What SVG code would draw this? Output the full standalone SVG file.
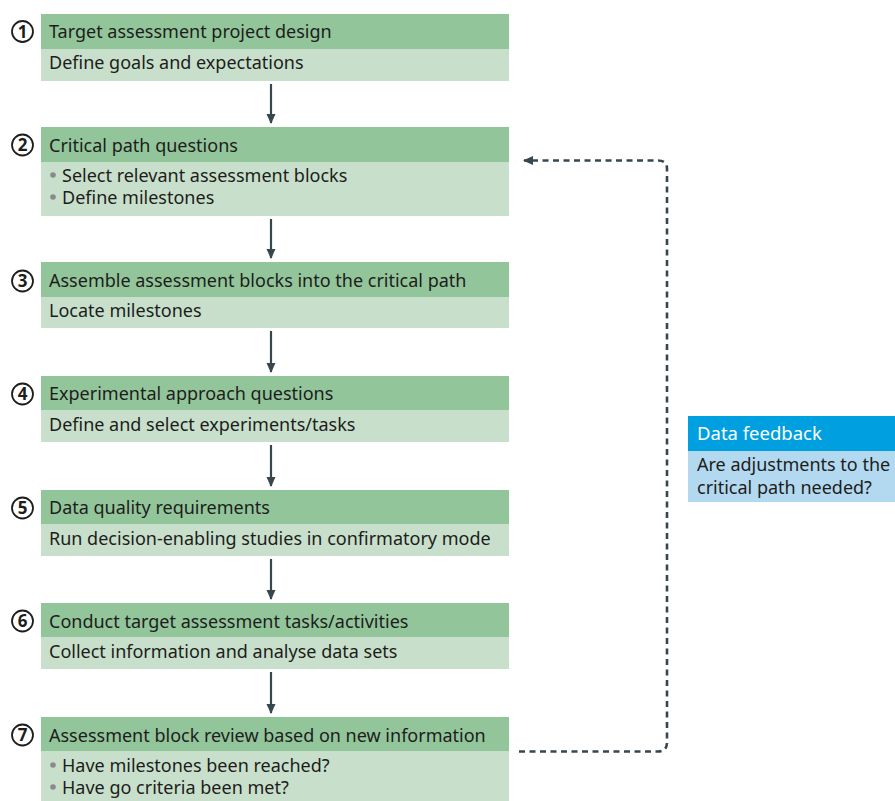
<svg xmlns="http://www.w3.org/2000/svg" width="895" height="801" viewBox="0 0 895 801">
<style>
.hd{fill:#93c59b}
.bd{fill:#c8e0cb}
.t{font-family:"Noto Sans","Open Sans",sans-serif;font-size:18px;fill:#1d1d1b}
.w{font-family:"Noto Sans","Open Sans",sans-serif;font-size:18.5px;fill:#ffffff}
.num{font-family:"Noto Sans","DejaVu Sans",sans-serif;font-size:17px;font-weight:bold;fill:#1d1d1b;text-anchor:middle}
.circ{fill:#ffffff;stroke:#1d1d1b;stroke-width:1.8}
.bul{fill:#8a8a8a}
.arr{stroke:#37474f;stroke-width:2.2;fill:none}
.dash{stroke:#37474f;stroke-width:2.6;fill:none;stroke-dasharray:6 4.5}
</style>
<defs>
<marker id="ah" markerWidth="12" markerHeight="12" refX="9" refY="6" orient="auto" markerUnits="userSpaceOnUse">
<path d="M0,1.5 L10,6 L0,10.5 Z" fill="#37474f"/>
</marker>
<marker id="ah2" markerWidth="12" markerHeight="12" refX="9" refY="6" orient="auto" markerUnits="userSpaceOnUse">
<path d="M0,1.5 L10,6 L0,10.5 Z" fill="#37474f"/>
</marker>
</defs>

<g id="connectors">
<line class="arr" x1="271" y1="84" x2="271" y2="123" marker-end="url(#ah)"/>
<line class="arr" x1="271" y1="219" x2="271" y2="258" marker-end="url(#ah)"/>
<line class="arr" x1="271" y1="331" x2="271" y2="372" marker-end="url(#ah)"/>
<line class="arr" x1="271" y1="445" x2="271" y2="486" marker-end="url(#ah)"/>
<line class="arr" x1="271" y1="559" x2="271" y2="599" marker-end="url(#ah)"/>
<line class="arr" x1="271" y1="672" x2="271" y2="713" marker-end="url(#ah)"/>
<path class="dash" d="M519,751.5 H658 Q667,751.5 667,742 V169 Q667,160.5 658,160.5 H524" marker-end="url(#ah2)"/>
</g>

<g id="node1">
<rect class="hd" x="41" y="14" width="468" height="35"/>
<rect class="bd" x="41" y="49" width="468" height="32"/>
<circle class="circ" cx="22.5" cy="31.5" r="10.5"/>
<text class="num" x="22.5" y="37.5">1</text>
<text class="t" x="49" y="37.5">Target assessment project design</text>
<text class="t" x="49" y="68.5">Define goals and expectations</text>
</g>

<g id="node2">
<rect class="hd" x="41" y="127" width="468" height="35"/>
<rect class="bd" x="41" y="162" width="468" height="54"/>
<circle class="circ" cx="22.5" cy="145" r="10.5"/>
<text class="num" x="22.5" y="151">2</text>
<text class="t" x="49" y="151.5">Critical path questions</text>
<circle class="bul" cx="53" cy="175" r="2.8"/>
<text class="t" x="62" y="181.5">Select relevant assessment blocks</text>
<circle class="bul" cx="53" cy="197" r="2.8"/>
<text class="t" x="62" y="203.5">Define milestones</text>
</g>

<g id="node3">
<rect class="hd" x="41" y="262" width="468" height="35"/>
<rect class="bd" x="41" y="297" width="468" height="31"/>
<circle class="circ" cx="22.5" cy="281" r="10.5"/>
<text class="num" x="22.5" y="287">3</text>
<text class="t" x="49" y="286.5">Assemble assessment blocks into the critical path</text>
<text class="t" x="49" y="316.5">Locate milestones</text>
</g>

<g id="node4">
<rect class="hd" x="41" y="376" width="468" height="34"/>
<rect class="bd" x="41" y="410" width="468" height="32"/>
<circle class="circ" cx="22.5" cy="394" r="10.5"/>
<text class="num" x="22.5" y="400">4</text>
<text class="t" x="49" y="399.5">Experimental approach questions</text>
<text class="t" x="49" y="430.5">Define and select experiments/tasks</text>
</g>

<g id="node5">
<rect class="hd" x="41" y="490" width="468" height="34"/>
<rect class="bd" x="41" y="524" width="468" height="32"/>
<circle class="circ" cx="22.5" cy="508" r="10.5"/>
<text class="num" x="22.5" y="514">5</text>
<text class="t" x="49" y="513.5">Data quality requirements</text>
<text class="t" x="49" y="544.5">Run decision-enabling studies in confirmatory mode</text>
</g>

<g id="node6">
<rect class="hd" x="41" y="603" width="468" height="34"/>
<rect class="bd" x="41" y="637" width="468" height="32"/>
<circle class="circ" cx="22.5" cy="621" r="10.5"/>
<text class="num" x="22.5" y="627">6</text>
<text class="t" x="49" y="627.5">Conduct target assessment tasks/activities</text>
<text class="t" x="49" y="657.5">Collect information and analyse data sets</text>
</g>

<g id="node7">
<rect class="hd" x="41" y="717" width="468" height="34"/>
<rect class="bd" x="41" y="751" width="468" height="50"/>
<circle class="circ" cx="22.5" cy="735" r="10.5"/>
<text class="num" x="22.5" y="741">7</text>
<text class="t" x="49" y="741.5">Assessment block review based on new information</text>
<circle class="bul" cx="53" cy="765" r="2.8"/>
<text class="t" x="62" y="771.5">Have milestones been reached?</text>
<circle class="bul" cx="53" cy="787" r="2.8"/>
<text class="t" x="62" y="793.5">Have go criteria been met?</text>
</g>

<g id="feedback">
<rect x="688" y="416" width="207" height="35" fill="#009fdf"/>
<rect x="688" y="451" width="207" height="51" fill="#b3d9f0"/>
<text class="w" x="697" y="440">Data feedback</text>
<text class="t" x="697" y="471">Are adjustments to the</text>
<text class="t" x="697" y="494">critical path needed?</text>
</g>
</svg>
